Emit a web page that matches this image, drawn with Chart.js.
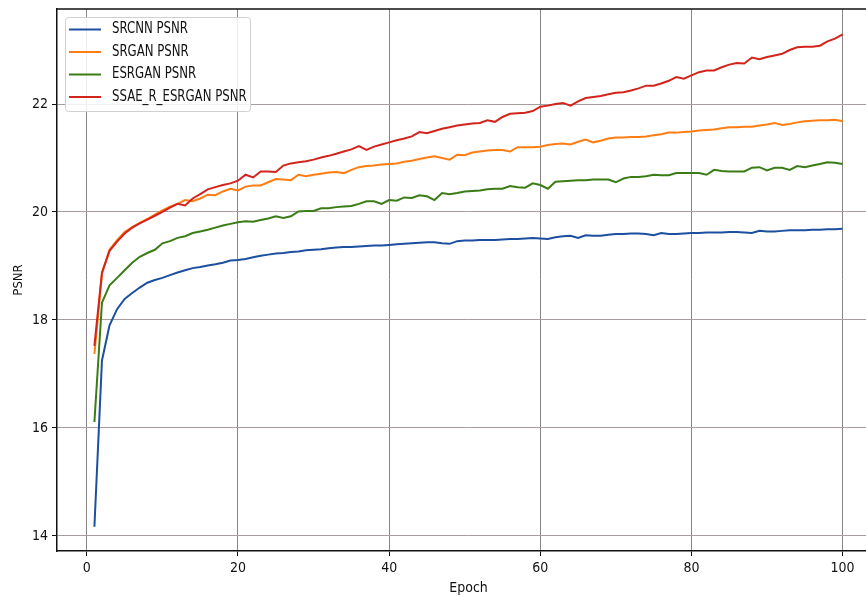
<!DOCTYPE html>
<html>
<head>
<meta charset="utf-8">
<title>PSNR per epoch</title>
<script src="https://cdn.jsdelivr.net/npm/chart.js@4.4.1/dist/chart.umd.min.js"></script>
<style>
  html, body { margin: 0; padding: 0; background: #fff; overflow: hidden; }
  #chart { display: block; }
</style>
</head>
<body>
<canvas id="chart" width="900" height="596"></canvas>
<script>
'use strict';

/*** DATA ***/

var epochs = Array.from({ length: 100 }, function(_, i) { return i + 1; });

var seriesNames = ['SRCNN PSNR', 'SRGAN PSNR', 'ESRGAN PSNR', 'SSAE_R_ESRGAN PSNR'];

var srcnn = [
  14.17, 17.25, 17.90, 18.20, 18.39, 18.50, 18.60, 18.69, 18.74, 18.78,
  18.83, 18.88, 18.92, 18.96, 18.98, 19.01, 19.03, 19.06, 19.10, 19.11,
  19.13, 19.16, 19.19, 19.21, 19.23, 19.24, 19.26, 19.27, 19.29, 19.30,
  19.31, 19.33, 19.34, 19.35, 19.35, 19.36, 19.37, 19.38, 19.38, 19.39,
  19.40, 19.41, 19.42, 19.43, 19.44, 19.44, 19.42, 19.41, 19.46, 19.47,
  19.47, 19.48, 19.48, 19.48, 19.49, 19.50, 19.50, 19.51, 19.52, 19.51,
  19.50, 19.53, 19.55, 19.56, 19.52, 19.57, 19.56, 19.56, 19.58, 19.59,
  19.59, 19.60, 19.60, 19.59, 19.57, 19.61, 19.59, 19.59, 19.60, 19.61,
  19.61, 19.62, 19.62, 19.62, 19.63, 19.63, 19.62, 19.61, 19.65, 19.64,
  19.64, 19.65, 19.66, 19.66, 19.66, 19.67, 19.67, 19.68, 19.68, 19.69
];

var srgan = [
  17.37, 18.85, 19.30, 19.48, 19.63, 19.72, 19.80, 19.87, 19.95, 20.03,
  20.10, 20.15, 20.22, 20.20, 20.25, 20.32, 20.31, 20.38, 20.43, 20.40,
  20.47, 20.49, 20.49, 20.55, 20.61, 20.60, 20.59, 20.69, 20.66, 20.69,
  20.71, 20.73, 20.74, 20.72, 20.78, 20.83, 20.85, 20.86, 20.88, 20.89,
  20.90, 20.93, 20.95, 20.98, 21.01, 21.03, 21.00, 20.97, 21.06, 21.05,
  21.10, 21.12, 21.14, 21.15, 21.15, 21.12, 21.20, 21.20, 21.20, 21.21,
  21.24, 21.26, 21.27, 21.25, 21.30, 21.34, 21.29, 21.32, 21.36, 21.38,
  21.38, 21.39, 21.39, 21.40, 21.42, 21.44, 21.47, 21.47, 21.48, 21.49,
  21.51, 21.52, 21.53, 21.55, 21.57, 21.57, 21.58, 21.58, 21.60, 21.62,
  21.65, 21.61, 21.63, 21.66, 21.68, 21.69, 21.70, 21.70, 21.71, 21.68
];

var esrgan = [
  16.11, 18.32, 18.64, 18.78, 18.92, 19.06, 19.17, 19.24, 19.30, 19.42,
  19.46, 19.52, 19.55, 19.61, 19.64, 19.67, 19.71, 19.75, 19.78, 19.81,
  19.83, 19.82, 19.85, 19.88, 19.92, 19.89, 19.92, 20.01, 20.02, 20.02,
  20.07, 20.07, 20.09, 20.10, 20.11, 20.15, 20.20, 20.20, 20.15, 20.22,
  20.21, 20.27, 20.26, 20.31, 20.29, 20.22, 20.35, 20.33, 20.35, 20.38,
  20.39, 20.40, 20.42, 20.43, 20.43, 20.48, 20.46, 20.45, 20.53, 20.50,
  20.43, 20.56, 20.57, 20.58, 20.59, 20.59, 20.60, 20.60, 20.60, 20.55,
  20.62, 20.65, 20.65, 20.66, 20.69, 20.68, 20.68, 20.72, 20.72, 20.72,
  20.72, 20.69, 20.78, 20.76, 20.75, 20.75, 20.75, 20.82, 20.83, 20.77,
  20.82, 20.82, 20.78, 20.85, 20.83, 20.86, 20.89, 20.92, 20.91, 20.89
];

var ssae = [
  17.52, 18.88, 19.28, 19.45, 19.60, 19.71, 19.79, 19.86, 19.93, 20.00,
  20.08, 20.15, 20.12, 20.25, 20.33, 20.42, 20.46, 20.50, 20.53, 20.58,
  20.69, 20.64, 20.75, 20.75, 20.74, 20.86, 20.90, 20.92, 20.94, 20.97,
  21.01, 21.04, 21.08, 21.12, 21.16, 21.22, 21.15, 21.21, 21.25, 21.29,
  21.33, 21.36, 21.40, 21.48, 21.46, 21.50, 21.54, 21.57, 21.60, 21.62,
  21.64, 21.65, 21.70, 21.67, 21.76, 21.82, 21.83, 21.84, 21.87, 21.95,
  21.97, 22.00, 22.02, 21.97, 22.05, 22.11, 22.13, 22.15, 22.18, 22.21,
  22.22, 22.25, 22.29, 22.34, 22.34, 22.38, 22.43, 22.50, 22.47, 22.53,
  22.59, 22.62, 22.62, 22.68, 22.73, 22.76, 22.75, 22.86, 22.83, 22.87,
  22.90, 22.93, 23.00, 23.05, 23.06, 23.06, 23.08, 23.16, 23.21, 23.29
];

var xTicks = [0, 20, 40, 60, 80, 100];
var yTicks = [14, 16, 18, 20, 22];

/*** STYLE ***/

var fontFamily = "'Liberation Sans Narrow', 'DejaVu Sans Condensed', sans-serif";
var colors = ['#1c4f9f', '#ff7d12', '#3a7c16', '#d3241b'];

Chart.defaults.font.family = fontFamily;
Chart.defaults.color = '#111';

// pairs every epoch with its value
function toPoints(values) {
  return epochs.map(function(e, i) {
    return { x: e, y: values[i] };
  });
}

function makeDataset(i, values) {
  return {
    label: seriesNames[i],
    data: toPoints(values),
    borderColor: colors[i],
    backgroundColor: colors[i],
    borderWidth: 2,
    pointRadius: 0,
    tension: 0,
    order: 3 - i
  };
}

// no automatic label padding, fixed axis size
function fixSize(prop, size) {
  return function(scale) {
    scale[prop] = size;
    scale.paddingTop = 0;
    scale.paddingBottom = 0;
    scale.paddingLeft = 0;
    scale.paddingRight = 0;
  };
}

/*** PLUGINS ***/

// top and right spines
var frame = {
  id: 'frame',
  afterDatasetsDraw: function(chart) {
    var a = chart.chartArea;
    var ctx = chart.ctx;
    ctx.save();
    ctx.strokeStyle = '#111';
    ctx.lineWidth = 1.5;
    ctx.beginPath();
    ctx.moveTo(a.left, a.top);
    ctx.lineTo(a.right, a.top);
    ctx.lineTo(a.right, a.bottom);
    ctx.stroke();
    ctx.restore();
  }
};

// legend in the upper left corner of the plot
var legendBox = {
  id: 'legendBox',
  afterDraw: function(chart) {
    var a = chart.chartArea;
    var ctx = chart.ctx;
    var x = a.left + 8;
    var y = a.top + 8;
    var w = 185;
    var h = 94;
    ctx.save();
    ctx.fillStyle = 'rgba(255,255,255,0.85)';
    ctx.strokeStyle = '#d0d0d0';
    ctx.lineWidth = 1;
    ctx.beginPath();
    ctx.roundRect(x + 0.5, y + 0.5, w, h, 3);
    ctx.fill();
    ctx.stroke();
    ctx.font = '15px ' + fontFamily;
    ctx.textBaseline = 'middle';
    chart.data.datasets.forEach(function(ds, i) {
      var rowY = y + 12.5 + i * 22.5;
      ctx.strokeStyle = ds.borderColor;
      ctx.lineWidth = 2;
      ctx.beginPath();
      ctx.moveTo(x + 4, rowY);
      ctx.lineTo(x + 36, rowY);
      ctx.stroke();
      // the original font is narrower, squeeze the label a bit
      ctx.save();
      ctx.translate(x + 47, rowY);
      ctx.scale(0.87, 1);
      ctx.fillStyle = '#111';
      ctx.fillText(ds.label, 0, 0);
      ctx.restore();
    });
    ctx.restore();
  }
};

/*** CHART ***/

var ctx = document.getElementById('chart').getContext('2d');
var chart = new Chart(ctx, {
  type: 'line',
  data: {
    datasets: [
      makeDataset(0, srcnn),
      makeDataset(1, srgan),
      makeDataset(2, esrgan),
      makeDataset(3, ssae)
    ]
  },
  options: {
    responsive: false,
    animation: false,
    layout: { padding: { top: 9, right: 20, left: 0, bottom: 0 } },
    plugins: {
      legend: { display: false },
      tooltip: { enabled: false }
    },
    scales: {
      x: {
        type: 'linear',
        min: -3.95,
        max: 104.95,
        afterFit: fixSize('height', 45),
        afterBuildTicks: function(scale) {
          scale.ticks = xTicks.map(function(v) { return { value: v }; });
        },
        ticks: { font: { size: 14 }, padding: 4, maxRotation: 0 },
        grid: { color: '#8a8585', lineWidth: 1, tickLength: 5, tickColor: '#111' },
        border: { color: '#111', width: 1.5 },
        title: { display: true, text: 'Epoch', font: { size: 14 }, padding: { top: 0, bottom: -1 } }
      },
      y: {
        min: 13.72,
        max: 23.76,
        afterFit: fixSize('width', 57),
        afterBuildTicks: function(scale) {
          scale.ticks = yTicks.map(function(v) { return { value: v }; });
        },
        ticks: { font: { size: 14 }, padding: 4 },
        grid: { color: '#a89d9d', lineWidth: 1, tickLength: 5, tickColor: '#111' },
        border: { color: '#111', width: 1.5 },
        title: { display: true, text: 'PSNR', font: { size: 13 }, padding: 11 }
      }
    }
  },
  plugins: [frame, legendBox]
});
</script>
</body>
</html>
